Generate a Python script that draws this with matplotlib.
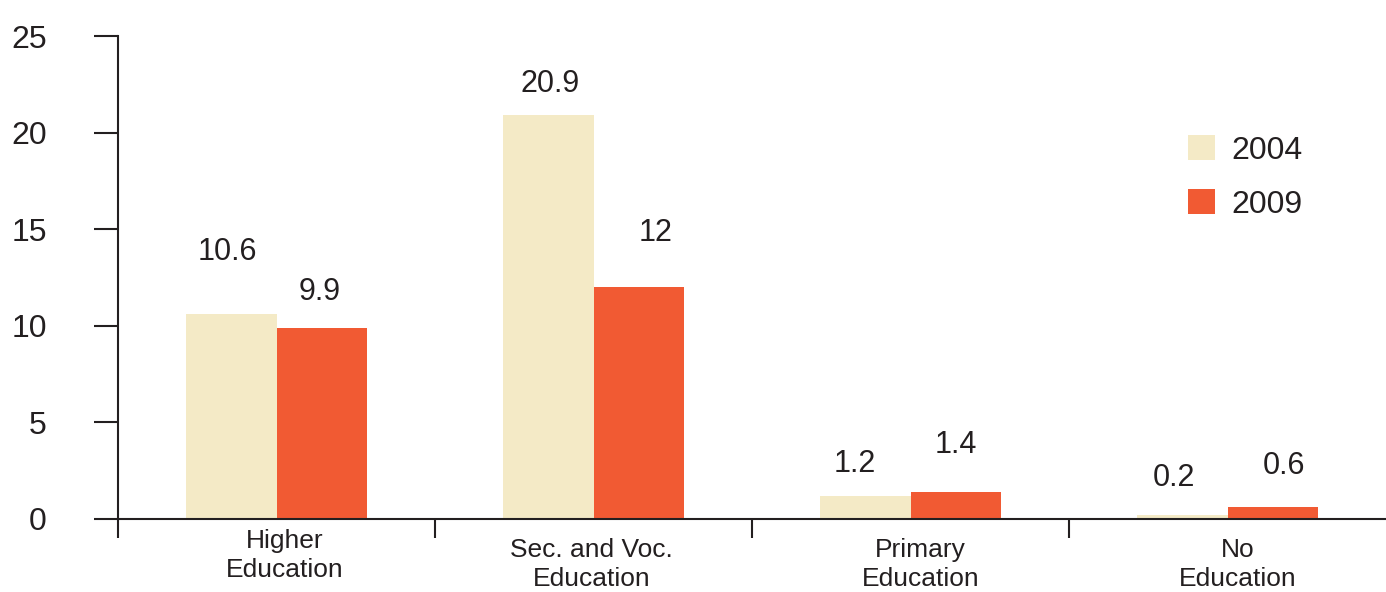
import numpy as np
import matplotlib
matplotlib.use('Agg')
from matplotlib import pyplot as plt
from matplotlib.patches import Patch

plt.rcParams['font.family'] = ['Liberation Sans', 'DejaVu Sans']

categories = ['Higher\nEducation', 'Sec. and Voc.\nEducation', 'Primary\nEducation', 'No\nEducation']
years = ['2004', '2009']
values_2004 = [10.6, 20.9, 1.2, 0.2]
values_2009 = [9.9, 12, 1.4, 0.6]
y_ticks = [0, 5, 10, 15, 20, 25]

ink = '#231f20'
colors = ['#f4eac6', '#f15a33']

# hand nudges for the value labels, in pixels: (dx, height above bar top)
nudge_2004 = [(-4, 62), (2, 31), (-11, 32), (-9, 37)]
nudge_2009 = [(-2, 36), (17, 54), (0, 47), (11, 41)]
# category label nudges, pixels below the axis
cat_nudge = [(8, -10), (-2, -19), (10, -19), (10, -19)]

W, H = 1386, 592
fig = plt.figure(figsize=(W / 100, H / 100), dpi=100)
ax = fig.add_axes([118 / W, 73 / H, 1268 / W, 483 / H])

x = np.arange(len(categories))
bw = 0.284
bars_a = ax.bar(x - bw / 2, values_2004, bw, color=colors[0], linewidth=0)
bars_b = ax.bar(x + bw / 2, values_2009, bw, color=colors[1], linewidth=0)

ax.set_xlim(-0.5, 3.5)
ax.set_ylim(0, 25)

for s in ['top', 'right']:
    ax.spines[s].set_visible(False)
for s in ['left', 'bottom']:
    ax.spines[s].set_color(ink)
    ax.spines[s].set_linewidth(1.5)

ax.set_yticks(y_ticks)
ax.tick_params(axis='y', length=17.3, width=1.5, pad=34, labelsize=23,
               color=ink, labelcolor=ink)
ax.set_xticks([])
ax.set_xticks(np.arange(-0.5, 3, 1), minor=True)
ax.tick_params(axis='x', which='minor', length=13.7, width=1.5, color=ink,
               labelbottom=False)

for bars, vals, nudges in [(bars_a, values_2004, nudge_2004),
                           (bars_b, values_2009, nudge_2009)]:
    for b, v, (dx, dy) in zip(bars, vals, nudges):
        ax.annotate(f'{v:g}', xy=(b.get_x() + b.get_width() / 2, v),
                    xytext=(dx, dy), textcoords='offset pixels',
                    ha='center', va='center', fontsize=22, color=ink)

for i, (cat, (dx, dy)) in enumerate(zip(categories, cat_nudge)):
    ax.annotate(cat, xy=(i, 0), xycoords=('data', 'axes fraction'),
                xytext=(dx, dy), textcoords='offset pixels',
                ha='center', va='top', fontsize=19, linespacing=1.28,
                color=ink, annotation_clip=False)

handles = [Patch(facecolor=c, edgecolor='none') for c in colors]
ax.legend(handles, years, loc='upper left', bbox_to_anchor=(1188 / W, 1 - 135 / H),
          bbox_transform=fig.transFigure, frameon=False, fontsize=23,
          handlelength=0.85, handleheight=0.85, handletextpad=0.5,
          labelspacing=0.72, borderpad=0, borderaxespad=0, labelcolor=ink)

fig.savefig('out.png', dpi=100)
